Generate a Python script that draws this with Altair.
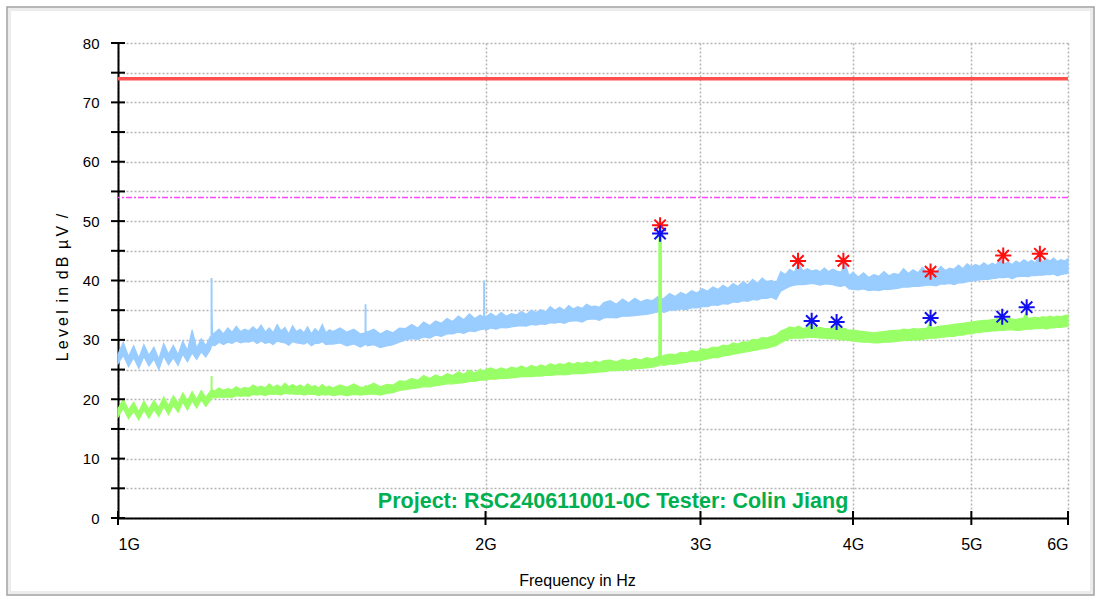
import altair as alt
import pandas as pd

# Sweep frequencies (MHz); each trace is stored as the low / high edge of its
# displayed band (dBuV) at every frequency.
freq_mhz = [
    1000, 1010, 1020, 1030, 1040, 1050, 1060, 1070, 1080, 1090,
    1100, 1110, 1120, 1130, 1140, 1150, 1160, 1170, 1180, 1190,
    1192, 1192.2, 1193.8, 1194, 1195,
    1200, 1210, 1220, 1230, 1240, 1250, 1260, 1270, 1280, 1290,
    1300, 1310, 1320, 1330, 1340, 1350, 1360, 1370, 1380, 1390,
    1400, 1410, 1420, 1430, 1440, 1450, 1460, 1470, 1480, 1490,
    1500,
    1520, 1540, 1560, 1580,
    1593.7, 1594, 1596, 1596.3,
    1600, 1620, 1640, 1660, 1680, 1700, 1720, 1740, 1760, 1780,
    1800, 1820, 1840, 1860, 1880, 1900, 1920, 1940, 1960, 1980,
    1993.2, 1993.5, 1996.5, 1996.8,
    2000, 2020, 2040, 2060, 2080, 2100, 2120, 2140, 2160, 2180,
    2200, 2220, 2240, 2260, 2280, 2300, 2320, 2340, 2360, 2380,
    2400, 2420, 2440, 2460, 2480, 2500,
    2530, 2560, 2590, 2620, 2650, 2680, 2710, 2740, 2768,
    2773.5, 2774, 2779, 2779.6, 2780.4, 2781, 2786, 2786.5,
    2800, 2830, 2860, 2890, 2920, 2950, 2980, 3010, 3040, 3070,
    3100, 3130, 3160, 3190, 3220, 3250, 3280, 3310, 3340, 3370,
    3400, 3430, 3460, 3490, 3520, 3550, 3580, 3610, 3640, 3670,
    3700, 3730, 3760, 3790, 3820, 3850, 3880, 3910, 3940, 3970,
    4000,
    4040, 4080, 4120, 4160, 4200, 4240, 4280, 4320, 4360, 4400,
    4440, 4480, 4520, 4560, 4600, 4630, 4640, 4680, 4720, 4760,
    4800, 4840, 4880, 4920, 4960, 5000, 5040, 5080, 5120, 5160,
    5200, 5240, 5280, 5320, 5360, 5400, 5440, 5480, 5520, 5550,
    5560, 5600, 5640, 5680, 5720, 5760, 5800, 5840, 5880, 5920,
    5960, 6000,
]

peak_lo = [
    26.0, 27.4, 25.5, 27.0, 25.2, 27.2, 25.6, 26.8, 25.0, 27.3,
    25.8, 27.0, 25.7, 27.6, 26.3, 27.8, 26.7, 28.0, 27.1, 28.3,
    28.8, 29.0, 29.0, 29.2, 29.2,
    29.0, 29.6, 29.2, 29.6, 29.4, 29.8, 29.5, 29.7, 29.6, 29.9,
    29.4, 29.8, 29.4, 29.6, 29.2, 29.8, 29.6, 29.5, 29.1, 29.7,
    29.5, 29.4, 29.3, 29.6, 29.0, 29.4, 29.4, 29.7, 29.2, 29.3,
    29.3,
    29.5, 29.0, 29.3, 28.8,
    29.2, 29.3, 29.3, 29.3,
    29.0, 29.2, 28.7, 29.0, 29.2, 29.6, 30.0, 30.2, 30.1, 30.5,
    30.3, 30.8, 30.6, 31.0, 31.0, 31.3, 31.1, 31.5, 31.4, 31.7,
    31.8, 32.0, 32.0, 32.0,
    31.6, 32.0, 31.8, 32.1, 32.0, 32.2, 32.3, 32.4, 32.3, 32.6,
    32.5, 32.7, 32.6, 32.9, 32.8, 33.0, 32.8, 33.1, 33.2, 33.2,
    33.0, 33.4, 33.5, 33.5, 33.3, 33.7,
    33.8, 33.7, 34.0, 34.0, 34.1, 34.2, 34.3, 34.5, 34.7,
    34.8, 34.8, 34.8, 35.0, 35.0, 35.0, 35.0, 34.9,
    34.6, 35.0, 35.0, 35.2, 35.1, 35.4, 35.4, 35.6, 35.6, 35.9,
    35.8, 36.1, 36.0, 36.4, 36.3, 36.6, 36.5, 36.8, 36.7, 37.0,
    37.0, 37.2, 36.8, 38.2, 38.6, 39.0, 39.2, 39.3, 39.3, 39.4,
    39.5, 39.4, 39.2, 39.4, 39.4, 39.3, 39.1, 39.0, 39.2, 38.6,
    38.5,
    38.4, 38.6, 38.3, 38.4, 38.3, 38.5, 38.5, 38.6, 38.7, 38.9,
    38.9, 39.0, 39.0, 39.1, 39.2, 39.2, 39.2, 39.1, 39.4, 39.4,
    39.5, 39.3, 39.6, 39.6, 39.8, 39.9, 40.0, 40.1, 40.2, 40.2,
    40.3, 40.4, 40.5, 40.5, 40.6, 40.3, 40.6, 40.7, 40.7, 40.7,
    40.6, 40.8, 40.8, 40.9, 40.9, 41.0, 41.0, 41.1, 40.8, 41.0,
    41.1, 41.2,
]

peak_hi = [
    27.6, 29.6, 27.2, 29.0, 26.9, 29.2, 27.4, 28.8, 26.8, 29.4,
    27.6, 29.1, 27.5, 29.8, 28.2, 31.7, 28.6, 30.2, 29.0, 30.5,
    30.3, 40.3, 40.3, 35.0, 31.0,
    31.2, 31.8, 31.0, 32.0, 31.3, 32.3, 31.4, 31.8, 31.5, 32.2,
    31.6, 32.5, 31.3, 32.0, 31.2, 32.6, 31.5, 32.1, 31.0, 32.4,
    31.4, 31.8, 31.2, 32.2, 31.0, 31.9, 31.3, 32.6, 31.2, 31.7,
    31.4,
    32.0, 31.3, 31.8, 31.0,
    31.2, 35.9, 35.9, 31.5,
    31.3, 31.8, 31.0, 31.6, 31.2, 32.0, 31.9, 32.6, 32.0, 33.0,
    32.4, 33.2, 32.8, 33.6, 33.1, 34.0, 33.4, 34.4, 33.6, 34.2,
    33.8, 39.9, 39.9, 34.0,
    33.8, 34.5, 33.9, 34.6, 34.0, 34.4, 34.2, 34.8, 34.3, 35.0,
    34.6, 35.1, 34.7, 35.6, 35.0, 35.5, 35.0, 35.8, 35.2, 35.6,
    35.3, 36.0, 35.6, 35.7, 35.5, 36.3,
    36.6, 36.0, 36.9, 36.2, 37.0, 36.4, 36.8, 36.6, 37.3,
    36.6, 36.5, 36.5, 49.3, 49.3, 36.8, 36.7, 36.9,
    37.0, 37.8, 37.3, 38.0, 37.6, 38.3, 37.9, 38.6, 38.2, 38.9,
    38.5, 39.2, 38.7, 39.5, 39.0, 39.8, 39.3, 40.2, 39.5, 40.4,
    39.8, 40.0, 39.6, 41.5, 41.0, 41.9, 41.4, 42.9, 41.6, 42.0,
    41.6, 41.8, 41.5, 42.1, 41.5, 41.9, 41.6, 41.4, 42.9, 40.8,
    41.4,
    40.6, 41.3, 40.5, 41.0, 40.7, 41.5, 40.8, 41.2, 41.0, 42.0,
    41.2, 41.8, 41.3, 42.2, 41.4, 41.9, 41.8, 41.5, 42.4, 41.7,
    42.1, 41.9, 42.6, 42.0, 42.8, 42.3, 42.7, 42.4, 43.0, 42.5,
    42.9, 42.6, 43.9, 42.8, 43.1, 42.7, 43.3, 42.9, 43.5, 43.2,
    43.0, 43.4, 43.0, 44.1, 43.2, 43.6, 43.3, 43.8, 43.2, 43.5,
    43.3, 43.7,
]

avg_lo = [
    17.0, 18.5, 16.7, 18.0, 16.5, 18.2, 16.8, 18.3, 17.1, 18.8,
    17.4, 19.0, 17.8, 19.5, 18.2, 19.7, 18.5, 19.9, 18.8, 19.8,
    20.0, 20.2, 20.2, 20.3, 20.3,
    20.2, 20.4, 20.3, 20.4, 20.3, 20.6, 20.5, 20.6, 20.5, 20.8,
    20.7, 20.8, 20.6, 20.9, 20.8, 20.9, 20.7, 21.0, 20.9, 20.9,
    20.8, 20.9, 20.7, 20.9, 20.8, 20.8, 20.6, 20.8, 20.7, 20.8,
    20.6,
    20.8, 20.6, 20.8, 20.7,
    20.8, 20.8, 20.8, 20.8,
    20.8, 20.9, 20.7, 21.0, 21.1, 21.5, 21.6, 21.8, 21.9, 22.1,
    22.1, 22.3, 22.4, 22.6, 22.6, 22.7, 22.8, 23.0, 23.0, 23.2,
    23.2, 23.2, 23.2, 23.2,
    23.3, 23.4, 23.4, 23.5, 23.5, 23.6, 23.7, 23.8, 23.8, 23.8,
    23.9, 23.9, 24.0, 24.0, 24.1, 24.2, 24.1, 24.2, 24.3, 24.3,
    24.3, 24.4, 24.5, 24.5, 24.6, 24.6,
    24.8, 24.8, 24.9, 25.0, 25.1, 25.2, 25.3, 25.4, 25.6,
    25.7, 25.8, 25.8, 25.8, 25.8, 25.8, 25.8, 25.8,
    25.7, 25.9, 25.9, 26.1, 26.2, 26.4, 26.4, 26.6, 26.8, 27.0,
    27.0, 27.3, 27.4, 27.6, 27.7, 27.9, 28.0, 28.2, 28.3, 28.5,
    28.6, 28.8, 29.0, 29.5, 29.9, 30.2, 30.3, 30.3, 30.3, 30.4,
    30.4, 30.4, 30.3, 30.3, 30.2, 30.2, 30.1, 30.0, 30.0, 29.9,
    29.8,
    29.7, 29.6, 29.6, 29.5, 29.5, 29.6, 29.6, 29.7, 29.8, 29.9,
    29.9, 30.0, 30.0, 30.1, 30.2, 30.3, 30.3, 30.3, 30.4, 30.5,
    30.6, 30.6, 30.8, 30.8, 31.0, 31.0, 31.2, 31.2, 31.4, 31.4,
    31.5, 31.5, 31.6, 31.6, 31.7, 31.7, 31.6, 31.6, 31.7, 31.8,
    31.8, 31.8, 31.9, 31.9, 32.0, 31.8, 32.0, 32.0, 32.1, 32.1,
    32.2, 32.3,
]

avg_hi = [
    18.4, 20.0, 18.2, 19.5, 17.9, 19.7, 18.3, 19.8, 18.6, 20.4,
    18.9, 20.6, 19.3, 21.1, 19.7, 21.3, 20.0, 21.5, 20.3, 21.4,
    21.2, 23.8, 23.8, 21.8, 21.5,
    21.4, 21.9, 21.5, 21.8, 21.6, 22.1, 21.7, 22.0, 21.8, 22.4,
    22.0, 22.2, 21.9, 22.6, 22.0, 22.4, 22.0, 22.7, 22.1, 22.5,
    22.1, 22.4, 22.0, 22.6, 22.1, 22.3, 21.9, 22.5, 22.0, 22.2,
    21.9,
    22.4, 22.0, 22.6, 22.0,
    22.1, 22.3, 22.3, 22.0,
    22.2, 22.7, 22.1, 22.5, 22.4, 23.1, 23.0, 23.5, 23.2, 24.0,
    23.5, 24.1, 23.7, 24.3, 24.0, 24.6, 24.2, 24.9, 24.4, 25.1,
    24.6, 24.8, 24.8, 24.6,
    25.0, 25.3, 24.9, 25.3, 25.0, 25.4, 25.2, 25.6, 25.2, 25.7,
    25.4, 25.8, 25.5, 26.0, 25.7, 26.0, 25.8, 26.2, 25.9, 26.2,
    26.0, 26.3, 26.1, 26.4, 26.2, 26.5,
    26.6, 26.3, 26.7, 26.5, 26.9, 26.6, 27.0, 26.8, 27.2,
    27.0, 48.0, 48.0, 48.0, 48.0, 48.0, 48.0, 27.1,
    27.4, 27.6, 27.5, 27.9, 27.8, 28.2, 28.0, 28.5, 28.4, 28.8,
    28.7, 29.1, 29.0, 29.5, 29.3, 29.7, 29.6, 30.1, 30.0, 30.4,
    30.3, 30.6, 30.8, 31.5, 31.8, 32.2, 32.0, 32.3, 31.9, 32.1,
    32.7, 32.0, 32.1, 31.9, 31.9, 32.0, 32.5, 31.8, 31.9, 31.6,
    31.7,
    31.5, 31.4, 31.3, 31.2, 31.3, 31.4, 31.5, 31.6, 31.6, 31.8,
    31.7, 31.9, 31.8, 31.9, 32.0, 33.2, 32.0, 32.2, 32.3, 32.4,
    32.5, 32.6, 32.7, 32.8, 32.9, 33.0, 33.1, 33.2, 33.3, 33.3,
    33.4, 33.5, 33.7, 33.5, 33.6, 33.5, 33.4, 33.6, 33.7, 35.0,
    33.6, 33.7, 33.8, 33.7, 33.9, 33.8, 34.0, 33.8, 34.0, 33.9,
    34.1, 34.2,
]

assert len(freq_mhz) == len(peak_lo) == len(peak_hi) == len(avg_lo) == len(avg_hi)

# Limit lines (dBuV)
limit_peak = [74]
limit_avg = [54]

# Final measurement points
peak_mark_mhz = [2780, 3606, 3928, 4630, 5310, 5690]
peak_mark_db = [49.3, 43.3, 43.3, 41.5, 44.2, 44.5]
avg_mark_mhz = [2780, 3700, 3878, 4630, 5300, 5550]
avg_mark_db = [47.9, 33.2, 33.0, 33.7, 33.9, 35.5]

x_ticks_ghz = [1, 2, 3, 4, 5, 6]
y_ticks = [0, 5, 10, 15, 20, 25, 30, 35, 40, 45, 50, 55, 60, 65, 70, 75, 80]

note_text = "Project: RSC240611001-0C Tester: Colin Jiang"
note_pos = {"f": 2.544, "v": 1.7}

W, H = 950, 475
FONT = "Liberation Sans"
ASTERISK = "M-1,0L1,0M0,-1L0,1M-0.7,-0.7L0.7,0.7M-0.7,0.7L0.7,-0.7"

trace = pd.DataFrame({
    "f": [m / 1000 for m in freq_mhz],
    "peak_lo": peak_lo, "peak_hi": peak_hi,
    "avg_lo": avg_lo, "avg_hi": avg_hi,
})
peak_pts = pd.DataFrame({"f": [m / 1000 for m in peak_mark_mhz], "v": peak_mark_db})
avg_pts = pd.DataFrame({"f": [m / 1000 for m in avg_mark_mhz], "v": avg_mark_db})

xs = alt.Scale(type="log", domain=[1, 6], nice=False)
ys = alt.Scale(domain=[0, 80], nice=False)

# letter-spaced axis title (thin spaces inside words, no-break gaps between them)
TS, WS = "\u2009", "\u00a0\u2009"
y_title = WS.join(TS.join(word) for word in ["Level", "in", "dB", "\u00b5V", "/"])

x_axis = alt.Axis(
    values=x_ticks_ghz, labelExpr="datum.value + 'G'",
    title="Frequency in Hz", titleFont=FONT, titleFontSize=16, titleFontWeight="normal",
    titleColor="#000000", titleX=459, titleY=67, titleBaseline="alphabetic",
    labelFont=FONT, labelFontSize=16, labelColor="#000000", labelPadding=18,
    ticks=False, tickSize=0, domainColor="#000000", domainWidth=2,
    grid=True, gridColor="#b4b4b4", gridDash=[2, 2], gridWidth=1.5,
)
y_axis = alt.Axis(
    values=y_ticks, labelExpr="datum.value % 10 === 0 ? datum.label : ''",
    title=y_title, titleFont=FONT, titleFontSize=16, titleFontWeight="normal",
    titleColor="#000000", titleX=-56, titleY=244, titleAngle=270,
    titleAlign="center", titleBaseline="middle",
    labelFont=FONT, labelFontSize=15, labelColor="#000000", labelPadding=19,
    ticks=False, tickSize=0, domainColor="#000000", domainWidth=2,
    grid=True, gridColor="#b4b4b4", gridDash=[2, 2], gridWidth=1.5,
)


def fx(field="f"):
    return alt.X(f"{field}:Q", scale=xs, axis=x_axis)


def fy(field):
    return alt.Y(f"{field}:Q", scale=ys, axis=y_axis)


one = pd.DataFrame({"k": [0]})

frame = alt.Chart(one).mark_rect(
    fillOpacity=0, stroke="#a0a0a0", strokeWidth=1.5
).encode(x=alt.value(-111), x2=alt.value(976), y=alt.value(-36), y2=alt.value(552))
frame_inner = alt.Chart(one).mark_rect(
    fillOpacity=0, stroke="#ececec", strokeWidth=3
).encode(x=alt.value(-108.5), x2=alt.value(973.5), y=alt.value(-33.5), y2=alt.value(549.5))

peak_band = alt.Chart(trace).mark_area(
    color="#99ccff", stroke="#99ccff", strokeWidth=1.2, opacity=1
).encode(x=fx(), y=fy("peak_lo"), y2="peak_hi:Q")

avg_band = alt.Chart(trace).mark_area(
    color="#99ff66", stroke="#99ff66", strokeWidth=1.2, opacity=1
).encode(x=fx(), y=fy("avg_lo"), y2="avg_hi:Q")

lim_pk = alt.Chart(pd.DataFrame({"v": limit_peak})).mark_rule(
    color="#ff5050", strokeWidth=3.5
).encode(y=fy("v"))
lim_av = alt.Chart(pd.DataFrame({"v": limit_avg})).mark_rule(
    color="#ff44ff", strokeWidth=1.5, strokeDash=[6, 2, 2, 2]
).encode(y=fy("v"))

y_tick_marks = alt.Chart(pd.DataFrame({"v": y_ticks})).mark_rule(
    color="#000000", strokeWidth=2
).encode(y=fy("v"), x=alt.value(-7), x2=alt.value(7))
x_tick_marks = alt.Chart(pd.DataFrame({"f": x_ticks_ghz})).mark_rule(
    color="#000000", strokeWidth=2
).encode(x=fx(), y=alt.value(H - 7), y2=alt.value(H + 7))

peak_star = alt.Chart(peak_pts).mark_point(
    shape=ASTERISK, size=260, filled=False, color="#ff1010", strokeWidth=2, opacity=1
).encode(x=fx(), y=fy("v"))
avg_star = alt.Chart(avg_pts).mark_point(
    shape=ASTERISK, size=260, filled=False, color="#1010ee", strokeWidth=2, opacity=1
).encode(x=fx(), y=fy("v"))

note = alt.Chart(pd.DataFrame([note_pos])).mark_text(
    text=note_text, font=FONT, fontSize=21.5, fontWeight="bold", color="#00b050",
    align="center", baseline="alphabetic"
).encode(x=fx(), y=fy("v"))

chart = alt.layer(
    frame_inner, frame, peak_band, lim_pk, lim_av, peak_star, avg_band, avg_star,
    y_tick_marks, x_tick_marks, note,
).properties(
    width=W, height=H,
    padding={"left": 118, "top": 43, "right": 31, "bottom": 80},
    autosize=alt.AutoSizeParams(type="none"),
    background="#ffffff",
).configure_view(stroke=None)

chart.save("out.html", embed_options={"renderer": "svg", "actions": False})
